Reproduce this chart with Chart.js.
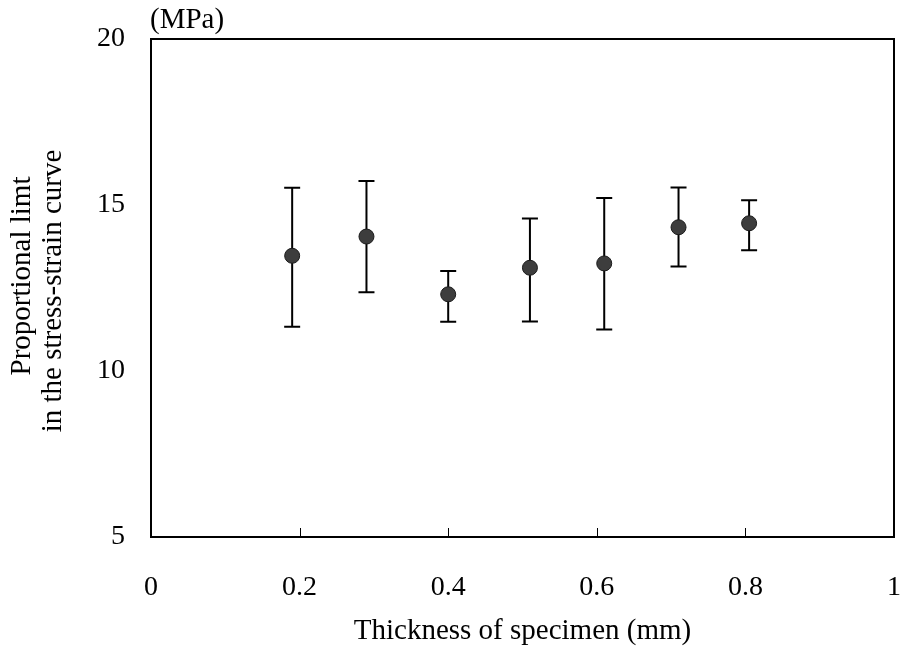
<!DOCTYPE html>
<html>
<head>
<meta charset="utf-8">
<script src="https://cdn.jsdelivr.net/npm/chart.js@4"></script>
<style>
  html, body { margin: 0; padding: 0; background: #fff; }
  #wrap { width: 904px; height: 661px; }
</style>
</head>
<body>
<div id="wrap"><canvas id="chart" width="904" height="661"></canvas></div>
<script>
// Data
const thickness = [0.19, 0.29, 0.40, 0.51, 0.61, 0.71, 0.805];
const meanStress = [13.47, 14.05, 12.31, 13.11, 13.24, 14.33, 14.45];
const upperStress = [15.52, 15.72, 13.01, 14.59, 15.21, 15.53, 15.14];
const lowerStress = [11.33, 12.37, 11.48, 11.49, 11.25, 13.15, 13.64];

const xTicks = [0, 0.2, 0.4, 0.6, 0.8, 1];
const yTicks = [5, 10, 15, 20];
const yTitleLines = ['Proportional limt', 'in the stress-strain curve'];
const unitLabel = '(MPa)';
const xTitle = 'Thickness of specimen (mm)';

const FONT = '"Liberation Serif", "Times New Roman", serif';

// error bars, frame, inner ticks and extra labels
const decorations = {
    id: 'decorations',
    beforeDatasetsDraw(chart) {
        const ctx = chart.ctx;
        const xs = chart.scales.x;
        const ys = chart.scales.y;
        ctx.save();
        ctx.strokeStyle = '#000';
        ctx.lineWidth = 2;
        thickness.forEach((t, i) => {
            const px = xs.getPixelForValue(t);
            const top = ys.getPixelForValue(upperStress[i]);
            const bot = ys.getPixelForValue(lowerStress[i]);
            ctx.beginPath();
            ctx.moveTo(px, top);
            ctx.lineTo(px, bot);
            ctx.moveTo(px - 8, top);
            ctx.lineTo(px + 8, top);
            ctx.moveTo(px - 8, bot);
            ctx.lineTo(px + 8, bot);
            ctx.stroke();
        });
        ctx.restore();
    },
    afterDraw(chart) {
        const ctx = chart.ctx;
        const a = chart.chartArea;
        const xs = chart.scales.x;
        ctx.save();
        ctx.strokeStyle = '#000';
        ctx.lineWidth = 2;
        ctx.strokeRect(a.left, a.top, a.right - a.left, a.bottom - a.top);

        ctx.lineWidth = 1;
        xTicks.slice(1, -1).forEach(v => {
            const px = Math.round(xs.getPixelForValue(v)) + 0.5;
            ctx.beginPath();
            ctx.moveTo(px, a.bottom);
            ctx.lineTo(px, a.bottom - 9);
            ctx.stroke();
        });

        ctx.fillStyle = '#000';
        ctx.font = '29px ' + FONT;
        ctx.textAlign = 'left';
        ctx.textBaseline = 'alphabetic';
        ctx.fillText(unitLabel, a.left - 1, a.top - 11);

        ctx.textAlign = 'center';
        ctx.textBaseline = 'middle';
        [[22, 276], [53, 291]].forEach(([cx, cy], i) => {
            ctx.save();
            ctx.translate(cx, cy);
            ctx.rotate(-Math.PI / 2);
            ctx.fillText(yTitleLines[i], 0, 0);
            ctx.restore();
        });
        ctx.restore();
    }
};

new Chart(document.getElementById('chart'), {
    type: 'scatter',
    data: {
        datasets: [{
            data: thickness.map((t, i) => ({ x: t, y: meanStress[i] })),
            pointRadius: 7.5,
            pointHoverRadius: 7.5,
            pointBackgroundColor: '#3d3d3d',
            pointBorderColor: '#1a1a1a',
            pointBorderWidth: 1
        }]
    },
    options: {
        responsive: false,
        animation: false,
        events: [],
        layout: { padding: { left: 0, right: 10, top: 39, bottom: 0 } },
        plugins: {
            legend: { display: false },
            tooltip: { enabled: false }
        },
        scales: {
            x: {
                type: 'linear',
                min: 0,
                max: 1,
                afterBuildTicks: s => { s.ticks = xTicks.map(v => ({ value: v })); },
                afterFit: s => { s.height = 124; s.paddingLeft = 0; s.paddingRight = 0; },
                grid: { display: false, drawTicks: false },
                border: { display: false },
                ticks: {
                    color: '#000',
                    padding: 34,
                    maxRotation: 0,
                    font: { family: FONT, size: 28 },
                    callback: v => String(v)
                },
                title: {
                    display: true,
                    text: xTitle,
                    color: '#000',
                    font: { family: FONT, size: 29 },
                    padding: { top: 12, bottom: 12 }
                }
            },
            y: {
                type: 'linear',
                min: 5,
                max: 20,
                afterBuildTicks: s => { s.ticks = yTicks.map(v => ({ value: v })); },
                afterFit: s => { s.width = 151; s.paddingTop = 0; s.paddingBottom = 0; },
                grid: { display: false, drawTicks: false },
                border: { display: false },
                ticks: {
                    color: '#000',
                    padding: 26,
                    font: { family: FONT, size: 28 }
                }
            }
        }
    },
    plugins: [decorations]
});
</script>
</body>
</html>
